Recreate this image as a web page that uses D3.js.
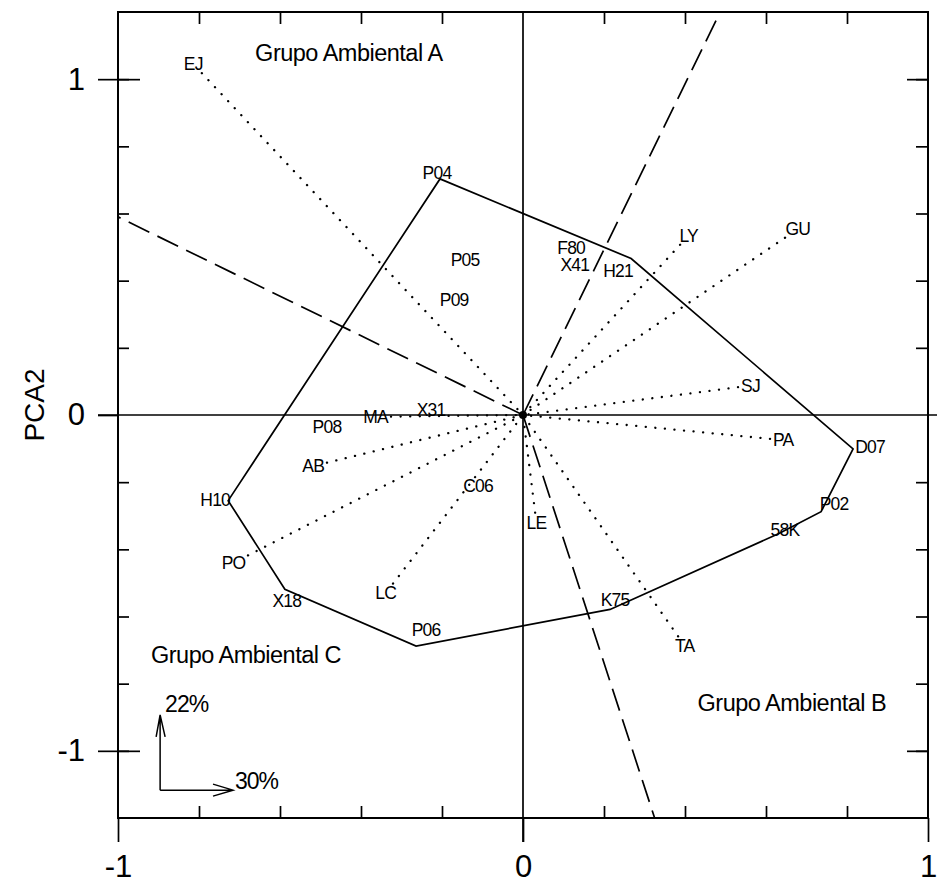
<!DOCTYPE html>
<html><head><meta charset="utf-8">
<script src="https://cdn.jsdelivr.net/npm/d3@7"></script>
<style>
html,body{margin:0;padding:0;background:#fff;}
svg{display:block;}
text{font-family:"Liberation Sans",Arial,Helvetica,sans-serif;fill:#000;}
</style></head><body>
<svg id="chart" width="937" height="891"></svg>
<script>
// ---------- data ----------
// environments (vector end points)
const envNames = ["EJ","LY","GU","SJ","PA","TA","LE","LC","PO","AB","MA"];
const envX = [-0.793, 0.388, 0.647, 0.531, 0.610, 0.383, 0.030, -0.321, -0.679, -0.484, -0.326];
const envY = [ 1.018, 0.507, 0.528, 0.083, -0.071, -0.659, -0.291, -0.502, -0.418, -0.142, -0.005];
// genotypes on the polygon (hull vertices, in order)
const hullNames = ["P04","H21","D07","P02","58K","K75","P06","X18","H10"];
const hullX = [-0.205, 0.267, 0.815, 0.736, 0.632, 0.215, -0.264, -0.588, -0.728];
const hullY = [ 0.703, 0.466, -0.101, -0.288, -0.353, -0.579, -0.688, -0.519, -0.255];
// genotypes inside the polygon
const innerNames = ["P05","P09","F80","X41","P08","X31","C06"];
const innerX = [-0.143, -0.170, 0.119, 0.128, -0.484, -0.227, -0.111];
const innerY = [ 0.463,  0.344, 0.497, 0.449, -0.036,  0.015, -0.211];
// sector (mega-environment) boundary lines, end points
const sectorX = [-1.0, 0.487, 0.325];
const sectorY = [0.59, 1.2, -1.2];
// group labels
const groupNames = ["Grupo Ambiental A","Grupo Ambiental B","Grupo Ambiental C"];
const groupX = [-0.43, 0.664, -0.684];
const groupY = [1.08, -0.857, -0.714];
// explained variance of the axes
const pcVariance = [30, 22];
// axis ticks
const xMajor = [-1, 0, 1];
const xMajorLabels = ["-1","0","1"];
const yMajor = [-1, 0, 1];
const yMajorLabels = ["-1","0","1"];
const xMinor = [-0.8,-0.6,-0.4,-0.2,0.2,0.4,0.6,0.8];
const yMinor = [-1.0,-0.8,-0.6,-0.4,-0.2,0.2,0.4,0.6,0.8,1.0];
const yTitle = "PCA2";

// ---------- layout ----------
const svg = d3.select("#chart");
const x = d3.scaleLinear().domain([-1, 1]).range([118, 928]);
const y = d3.scaleLinear().domain([-1.2, 1.2]).range([818, 12]);
const SW = 1.7;

function styleAxis(g){
  g.select(".domain").remove();
  g.selectAll(".tick line").attr("stroke","#000").attr("stroke-width",SW);
  g.selectAll(".tick text").attr("fill","#000").attr("font-family",'"Liberation Sans",Arial,sans-serif');
}

// minor ticks, all inward
svg.append("g").attr("transform",`translate(0,${y(-1.2)})`)
  .call(d3.axisTop(x).tickValues(xMinor).tickSize(12).tickFormat(""))
  .call(styleAxis);
svg.append("g").attr("transform",`translate(0,${y(1.2)})`)
  .call(d3.axisBottom(x).tickValues(xMinor).tickSize(12).tickFormat(""))
  .call(styleAxis);
svg.append("g").attr("transform",`translate(${x(-1)},0)`)
  .call(d3.axisRight(y).tickValues(yMinor).tickSize(11).tickFormat(""))
  .call(styleAxis);
svg.append("g").attr("transform",`translate(${x(1)},0)`)
  .call(d3.axisLeft(y).tickValues(yMinor).tickSize(12).tickFormat(""))
  .call(styleAxis);
// major ticks inward on left / right
svg.append("g").attr("transform",`translate(${x(-1)},0)`)
  .call(d3.axisRight(y).tickValues([-1,1]).tickSize(22).tickFormat(""))
  .call(styleAxis);
svg.append("g").attr("transform",`translate(${x(1)},0)`)
  .call(d3.axisLeft(y).tickValues([-1,1]).tickSize(21).tickFormat(""))
  .call(styleAxis);
// major ticks outward with labels
svg.append("g").attr("transform",`translate(0,${y(-1.2)})`)
  .call(d3.axisBottom(x).tickValues(xMajor).tickSize(24).tickPadding(13)
        .tickFormat((d,i)=>xMajorLabels[i]))
  .call(styleAxis)
  .call(g=>g.selectAll(".tick text").attr("font-size",31));
svg.append("g").attr("transform",`translate(${x(-1)},0)`)
  .call(d3.axisLeft(y).tickValues(yMajor).tickSize(20).tickPadding(13)
        .tickFormat((d,i)=>yMajorLabels[i]))
  .call(styleAxis)
  .call(g=>g.selectAll(".tick text").attr("font-size",31));

// frame
svg.append("rect").attr("x",x(-1)).attr("y",y(1.2))
  .attr("width",x(1)-x(-1)).attr("height",y(-1.2)-y(1.2))
  .attr("fill","none").attr("stroke","#000").attr("stroke-width",2);

// zero lines
svg.append("line").attr("x1",x(-1)-20).attr("x2",937).attr("y1",y(0)).attr("y2",y(0))
  .attr("stroke","#000").attr("stroke-width",SW);
svg.append("line").attr("x1",x(0)).attr("x2",x(0)).attr("y1",y(1.2)).attr("y2",y(-1.2)+24)
  .attr("stroke","#000").attr("stroke-width",SW);

// y title
svg.append("text").attr("transform",`translate(44,${y(0)-10}) rotate(-90)`)
  .attr("text-anchor","middle").attr("font-size",28).text(yTitle);

const plot = svg.append("g");

// environment vectors (dotted)
envNames.forEach((n,i)=>{
  plot.append("line")
    .attr("x1",x(envX[i])).attr("y1",y(envY[i])).attr("x2",x(0)).attr("y2",y(0))
    .attr("stroke","#000").attr("stroke-width",2.3).attr("stroke-linecap","round")
    .attr("stroke-dasharray","0.1,9.5");
});

// sector lines (dashed)
sectorX.forEach((sx,i)=>{
  plot.append("line")
    .attr("x1",x(0)).attr("y1",y(0)).attr("x2",x(sx)).attr("y2",y(sectorY[i]))
    .attr("stroke","#000").attr("stroke-width",SW).attr("stroke-dasharray","23,9");
});

// polygon
const hullPts = hullNames.map((n,i)=>[x(hullX[i]), y(hullY[i])]);
plot.append("path").attr("d", d3.line().curve(d3.curveLinearClosed)(hullPts))
  .attr("fill","none").attr("stroke","#000").attr("stroke-width",SW).attr("stroke-linejoin","miter");

// origin dot
plot.append("circle").attr("cx",x(0)).attr("cy",y(0)).attr("r",4).attr("fill","#000");

const LABEL_FS = 17.5, LABEL_LS = -0.8;
// hull genotype labels (small nudge from vertex, pixels)
const hullNudge = {"P04":[-3,-6],"H21":[-13,12],"D07":[17,-2],"P02":[13,-8],"58K":[6,-4],
                   "K75":[5,-10],"P06":[10,-16],"X18":[2,11],"H10":[-13,-1]};
hullNames.forEach((n,i)=>{
  const nd = hullNudge[n] || [0,0];
  plot.append("text").attr("x",x(hullX[i])+nd[0]).attr("y",y(hullY[i])+nd[1])
    .attr("dy","0.36em").attr("text-anchor","middle")
    .attr("font-size",LABEL_FS).attr("letter-spacing",LABEL_LS).text(n);
});
innerNames.forEach((n,i)=>{
  plot.append("text").attr("x",x(innerX[i])).attr("y",y(innerY[i]))
    .attr("dy","0.36em").attr("text-anchor","middle")
    .attr("font-size",LABEL_FS).attr("letter-spacing",LABEL_LS).text(n);
});
// environment labels placed outward along the vector
envNames.forEach((n,i)=>{
  const ex=x(envX[i]), ey=y(envY[i]);
  const dx=ex-x(0), dy=ey-y(0), L=Math.hypot(dx,dy), ux=dx/L, uy=dy/L;
  const t = plot.append("text").attr("text-anchor","middle").attr("dy","0.36em")
    .attr("font-size",LABEL_FS).attr("letter-spacing",LABEL_LS).text(n);
  const w = t.node().getComputedTextLength()/2, h = 7;
  const k = Math.min(Math.abs(ux)>1e-6 ? w/Math.abs(ux) : 1e9, Math.abs(uy)>1e-6 ? h/Math.abs(uy) : 1e9) + 3;
  t.attr("x", ex+ux*k).attr("y", ey+uy*k);
});

// group labels
groupNames.forEach((n,i)=>{
  plot.append("text").attr("x",x(groupX[i])).attr("y",y(groupY[i]))
    .attr("dy","0.36em").attr("text-anchor","middle")
    .attr("font-size",23.5).attr("letter-spacing",-0.5).text(n);
});

// explained-variance indicator
const ox = x(-0.896), oy = y(-1.117), vt = y(-0.893), ht = x(-0.716);
const ind = svg.append("g").attr("fill","none").attr("stroke","#000").attr("stroke-width",1.5);
ind.append("path").attr("d",`M${ox},${oy}V${vt}M${ox-4},${vt+22}L${ox},${vt}L${ox+5},${vt+22}`);
ind.append("path").attr("d",`M${ox},${oy}H${ht}M${ht-20},${oy-6}L${ht},${oy}L${ht-20},${oy+6}`);
svg.append("text").attr("x",ox+5).attr("y",vt-3).attr("font-size",23).attr("letter-spacing",-1)
  .text(pcVariance[1]+"%");
svg.append("text").attr("x",ht+2).attr("y",oy-1).attr("font-size",23).attr("letter-spacing",-1)
  .text(pcVariance[0]+"%");
</script>
</body></html>
